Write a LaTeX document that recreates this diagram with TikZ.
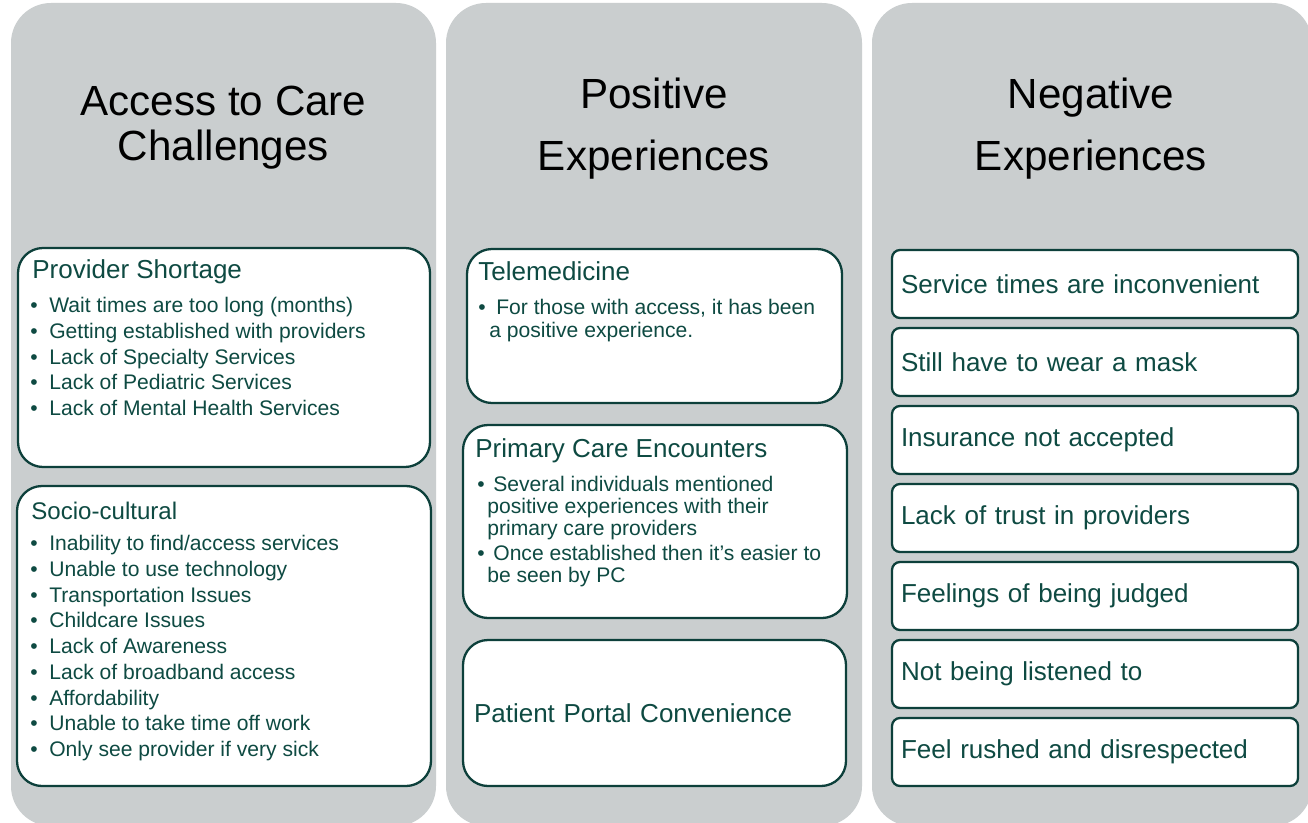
\documentclass[tikz,border=0pt]{standalone}
\usepackage{fontspec}
\setmainfont{Liberation Sans}
\usetikzlibrary{positioning}
\definecolor{panelgray}{HTML}{CACECF}
\definecolor{boxline}{HTML}{0D403B}
\definecolor{boxtext}{HTML}{0E4A42}
\newcommand{\bul}[1]{\makebox[#1][l]{\textbullet}}

\begin{document}
\begin{tikzpicture}[x=1cm,y=-1cm,
 panel/.style={fill=panelgray,rounded corners=0.8cm,minimum height=16.46cm,inner sep=0},
 head/.style={align=center,inner sep=0,anchor=north,text=black},
 card/.style={draw=boxline,line width=1.3pt,fill=white,rounded corners=0.5cm,inner sep=0,outer sep=0},
 tag/.style={card,rounded corners=0.16cm,minimum width=8.12cm,minimum height=1.36cm,text width=7.76cm,inner xsep=0.18cm,align=left,text=boxtext,font=\fontsize{14.8}{17}\selectfont},
 ttl/.style={anchor=base west,inner sep=0,text=boxtext,font=\fontsize{14.8}{17}\selectfont},
 pts/.style={anchor=north west,inner sep=0,align=left,text=boxtext,font=\fontsize{12}{14.65}\selectfont}]
\fill[white] (0,0) rectangle (26.16,16.46);
\useasboundingbox (0,0) rectangle (26.16,16.46);

% three columns
\node[panel,minimum width=8.5cm] (pacc) at (4.47,8.29) {};
\node[panel,minimum width=8.32cm] (ppos) at (13.08,8.29) {};
\node[panel,minimum width=8.8cm] (pneg) at (21.84,8.29) {};
\node[head,font=\fontsize{24}{25.6}\selectfont] (hacc) at (4.47,1.72) {Access to Care\\Challenges};
\node[head,font=\fontsize{24}{35.3}\selectfont] (hpos) at (13.08,1.56) {Positive\\Experiences};
\node[head,font=\fontsize{24}{35.3}\selectfont] (hneg) at (21.82,1.56) {Negative\\Experiences};

% access to care
\node[card,minimum width=8.24cm,minimum height=4.38cm] (short) at (4.48,7.15) {};
\node[ttl] (shortT) at ([shift={(0.28,0.62)}]short.north west) {Provider Shortage};
\node[pts] (shortL) at ([shift={(0.24,0.98)}]short.north west) {\bul{0.38cm}Wait times are too long (months)\\
 \bul{0.38cm}Getting established with providers\\ \bul{0.38cm}Lack of Specialty Services\\
 \bul{0.38cm}Lack of Pediatric Services\\ \bul{0.38cm}Lack of Mental Health Services};
\node[card,minimum width=8.28cm,minimum height=6cm] (socio) at (4.48,12.72) {};
\node[ttl,font=\fontsize{13.7}{16}\selectfont] (socioT) at ([shift={(0.28,0.66)}]socio.north west) {Socio-cultural};
\node[pts] (socioL) at ([shift={(0.26,0.98)}]socio.north west) {\bul{0.38cm}Inability to find/access services\\
 \bul{0.38cm}Unable to use technology\\ \bul{0.38cm}Transportation Issues\\ \bul{0.38cm}Childcare Issues\\
 \bul{0.38cm}Lack of Awareness\\ \bul{0.38cm}Lack of broadband access\\ \bul{0.38cm}Affordability\\
 \bul{0.38cm}Unable to take time off work\\ \bul{0.38cm}Only see provider if very sick};

% positive
\node[card,minimum width=7.5cm,minimum height=3.08cm] (tele) at (13.09,6.52) {};
\node[ttl] (teleT) at ([shift={(0.22,0.64)}]tele.north west) {Telemedicine};
\node[pts,font=\fontsize{12}{12.9}\selectfont] (teleL) at ([shift={(0.22,1.0)}]tele.north west) {\bul{0.36cm}For those with access, it has been\\
 \hspace*{0.22cm}a positive experience.};
\node[card,minimum width=7.68cm,minimum height=3.86cm] (prim) at (13.1,10.43) {};
\node[ttl] (primT) at ([shift={(0.24,0.64)}]prim.north west) {Primary Care Encounters};
\node[pts,font=\fontsize{12}{12.35}\selectfont] (primL) at ([shift={(0.28,1.02)}]prim.north west) {\bul{0.32cm}Several individuals mentioned\\
 \hspace*{0.2cm}positive experiences with their\\ \hspace*{0.2cm}primary care providers\\[2.4pt]
 \bul{0.32cm}Once established then it’s easier to\\ \hspace*{0.2cm}be seen by PC};
\node[card,minimum width=7.66cm,minimum height=2.92cm,text width=7.22cm,inner xsep=0.22cm,align=left,text=boxtext,font=\fontsize{14.8}{17}\selectfont] (portal) at (13.09,14.26) {Patient Portal Convenience};

% negative
\node[tag] (neg1) at (21.9,5.68) {Service times are inconvenient};
\node[tag,below=0.2cm of neg1] (neg2) {Still have to wear a mask};
\node[tag,below=0.2cm of neg2] (neg3) {Insurance not accepted};
\node[tag,below=0.2cm of neg3] (neg4) {Lack of trust in providers};
\node[tag,below=0.2cm of neg4] (neg5) {Feelings of being judged};
\node[tag,below=0.2cm of neg5] (neg6) {Not being listened to};
\node[tag,below=0.2cm of neg6] (neg7) {Feel rushed and disrespected};
\end{tikzpicture}
\end{document}
